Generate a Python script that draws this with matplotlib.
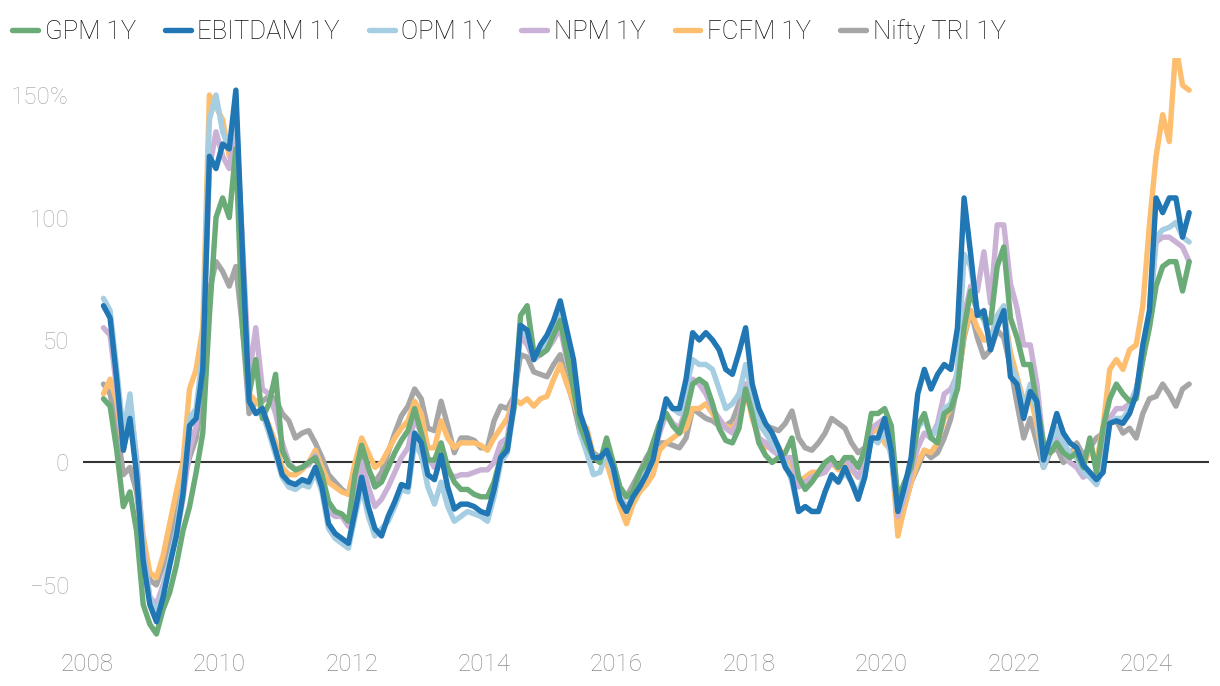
import numpy as np
import matplotlib.pyplot as plt
from matplotlib.ticker import FuncFormatter

# 1Y rolling returns (%), sampled every 0.1 year from 2008.25 to 2024.65
gpm = [26, 23, 5, -18, -12, -28, -58, -66,
       -70, -60, -53, -42, -28, -18, -4, 12, 60, 100,
       108, 100, 128, 55, 28, 42, 18, 24, 36, 5,
       -1, -3, -2, 0, 2, -5, -16, -20, -21, -24,
       -5, 7, -2, -10, -8, -2, 4, 9, 13, 22,
       12, 1, 1, 8, -2, -8, -11, -11, -13, -14,
       -14, -8, 2, 8, 22, 60, 64, 45, 44, 46,
       52, 58, 44, 30, 15, 8, 2, 0, 10, 0,
       -10, -14, -12, -4, 0, 8, 16, 20, 15, 12,
       20, 32, 34, 32, 24, 14, 9, 8, 14, 30,
       20, 8, 3, 0, 2, 4, 10, -6, -11, -8,
       -4, 0, 2, -2, 2, 2, -2, 5, 20, 20,
       22, 15, -15, -8, -2, 15, 20, 10, 8, 20,
       22, 30, 55, 70, 62, 59, 57, 80, 88, 59,
       51, 40, 40, 24, 8, 4, 8, 4, 2, 4,
       -2, 10, -4, 14, 26, 32, 28, 25, 26, 42,
       55, 72, 80, 82, 82, 70, 82]
ebitdam = [64, 59, 34, 5, 18, -5, -40, -58,
           -65, -55, -42, -30, -13, 15, 18, 38, 125, 120,
           130, 128, 152, 85, 25, 20, 22, 14, 5, -5,
           -8, -9, -7, -8, -2, -10, -25, -29, -31, -33,
           -20, -6, -18, -27, -30, -22, -16, -9, -10, 12,
           8, -5, -7, 3, -10, -19, -17, -17, -18, -20,
           -21, -11, 2, 5, 24, 56, 54, 42, 48, 52,
           58, 66, 54, 42, 20, 12, 2, 2, 5, -2,
           -15, -20, -14, -10, -5, 1, 14, 26, 22, 22,
           34, 53, 50, 53, 50, 46, 38, 36, 45, 55,
           32, 22, 16, 12, 6, -2, -6, -20, -18, -20,
           -20, -12, -5, -8, -2, -8, -15, -6, 10, 10,
           18, 5, -20, -10, 2, 28, 38, 30, 36, 40,
           38, 55, 108, 85, 60, 62, 46, 55, 62, 35,
           32, 18, 29, 25, 1, 10, 20, 12, 8, 6,
           -1, -4, -7, -4, 16, 17, 16, 20, 28, 48,
           62, 108, 102, 108, 108, 92, 102]
opm = [67, 62, 38, 12, 28, 0, -38, -55,
       -62, -52, -40, -28, -10, 18, 22, 45, 140, 150,
       135, 128, 145, 85, 25, 20, 20, 12, 3, -6,
       -10, -11, -9, -10, -4, -12, -27, -31, -33, -35,
       -22, -10, -22, -30, -27, -24, -18, -11, -12, 8,
       3, -10, -17, -8, -18, -24, -22, -20, -21, -22,
       -24, -14, 0, 4, 22, 56, 52, 42, 46, 50,
       55, 62, 50, 38, 12, 4, -5, -4, 4, -4,
       -14, -19, -14, -9, -4, 4, 14, 24, 22, 20,
       30, 42, 40, 40, 38, 30, 22, 24, 28, 40,
       28, 16, 12, 8, 4, 0, -8, -20, -18, -20,
       -20, -12, -6, -8, -4, -8, -13, -4, 10, 8,
       14, 2, -20, -12, 0, 14, 18, 10, 14, 22,
       24, 38, 85, 80, 62, 58, 50, 60, 64, 40,
       34, 22, 32, 20, -2, 6, 14, 8, 4, 2,
       -4, -6, -9, -2, 16, 18, 18, 22, 30, 42,
       58, 92, 95, 96, 98, 92, 90]
npm = [55, 52, 30, 5, 24, 2, -35, -55,
       -58, -50, -40, -30, -15, 5, 15, 42, 120, 135,
       125, 120, 138, 90, 35, 55, 30, 28, 20, 8,
       0, -3, -2, -1, 3, -5, -20, -22, -22, -26,
       -12, 0, -10, -18, -15, -10, -4, 2, 6, 18,
       12, 2, -2, 2, -4, -6, -5, -5, -4, -3,
       -3, 0, 8, 10, 28, 52, 48, 42, 44, 46,
       50, 55, 42, 32, 15, 8, 2, 2, 5, -3,
       -14, -18, -14, -8, -4, 2, 12, 20, 16, 14,
       22, 34, 32, 28, 22, 18, 14, 12, 18, 32,
       20, 10, 8, 5, 3, 2, 2, -10, -8, -6,
       -5, -4, 0, -2, 2, -2, -6, 0, 14, 16,
       18, 5, -22, -14, -4, 6, 12, 10, 16, 28,
       30, 36, 60, 72, 70, 86, 65, 97, 97, 73,
       63, 48, 48, 32, 7, 6, 10, 4, 0, -2,
       -6, -4, -9, 6, 18, 22, 22, 24, 30, 42,
       60, 90, 92, 92, 90, 88, 82]
fcfm = [28, 34, 25, 5, 20, -3, -30, -45,
        -47, -38, -25, -12, 0, 30, 38, 55, 150, 145,
        140, 125, 140, 85, 28, 25, 22, 15, 8, -2,
        -5, -5, -3, 0, 5, -2, -8, -10, -12, -13,
        0, 10, 4, -2, 0, 5, 10, 14, 17, 25,
        20, 6, 6, 17, 10, 6, 8, 8, 8, 7,
        5, 10, 14, 18, 26, 24, 26, 23, 26, 27,
        34, 40, 32, 25, 17, 14, 3, 0, 0, -9,
        -18, -25, -17, -12, -9, -5, 5, 8, 10, 12,
        14, 22, 22, 24, 20, 16, 15, 14, 18, 30,
        18, 10, 6, 10, 6, 2, -2, -8, -6, -4,
        -4, -3, 0, -3, 0, -3, -6, 0, 12, 14,
        8, 5, -30, -18, -8, 0, 5, 4, 8, 18,
        22, 32, 52, 62, 55, 50, 50, 60, 62, 45,
        35, 25, 28, 15, 0, 6, 10, 5, 4, 5,
        -2, 6, 0, 15, 38, 42, 38, 46, 48, 64,
        97, 125, 142, 131, 170, 154, 152]
nifty = [32, 28, 15, -5, -2, -12, -35, -48,
         -50, -42, -32, -22, -8, 2, 10, 30, 70, 82,
         78, 72, 80, 55, 20, 25, 25, 27, 26, 20,
         17, 10, 12, 13, 8, 2, -5, -8, -11, -13,
         -2, 2, -3, -8, -4, 4, 12, 19, 23, 30,
         26, 14, 13, 25, 15, 4, 10, 10, 9, 6,
         6, 17, 23, 22, 27, 44, 43, 37, 36, 35,
         40, 44, 33, 24, 12, 8, 4, 2, 6, 0,
         -10, -14, -9, -4, 2, 6, 8, 8, 7, 6,
         10, 22, 20, 18, 17, 15, 15, 17, 24, 32,
         22, 18, 15, 14, 13, 16, 21, 10, 6, 5,
         8, 12, 18, 16, 14, 8, 4, 6, 12, 14,
         10, 8, -28, -18, -8, -2, 5, 2, 4, 10,
         18, 32, 51, 62, 51, 43, 46, 54, 51, 39,
         24, 10, 18, 8, -2, 4, 6, 0, 2, 8,
         3, 6, 10, 12, 16, 17, 12, 14, 10, 20,
         26, 27, 32, 28, 23, 30, 32]

names = ['GPM 1Y', 'EBITDAM 1Y', 'OPM 1Y', 'NPM 1Y', 'FCFM 1Y', 'Nifty TRI 1Y']
colors = ['#6aab78', '#2077b4', '#a6cee3', '#cab2d6', '#fdbf6f', '#a6a6a6']
series = [gpm, ebitdam, opm, npm, fcfm, nifty]

years = 2008.25 + 0.1 * np.arange(len(gpm))

plt.rcParams['font.family'] = ['Roboto', 'DejaVu Sans']
fig = plt.figure(figsize=(12.2, 6.86), dpi=100)
ax = fig.add_axes([0.068, 0.058, 0.923, 0.857])

# EBITDAM and GPM on top, Nifty at the back
lines = {}
zorders = [5, 6, 4, 3, 2, 1]
for name, col, vals, z in zip(names, colors, series, zorders):
    ln, = ax.plot(years, vals, color=col, lw=3.9, zorder=z,
                  solid_joinstyle='round', solid_capstyle='round')
    lines[name] = ln

ax.axhline(0, color='#333333', lw=1.5, zorder=0)

ax.set_xlim(2007.94, 2024.95)
ax.set_ylim(-75, 165)
ax.set_xticks(range(2008, 2025, 2))
ax.set_yticks([-50, 0, 50, 100, 150])
ax.yaxis.set_major_formatter(FuncFormatter(lambda v, p: '150%' if v == 150 else '%d' % v if v >= 0 else '\u2212%d' % -v))
for s in ax.spines.values():
    s.set_visible(False)
ax.tick_params(axis='both', length=0)
ax.tick_params(axis='x', labelsize=17.5, labelcolor='#8c8c8c', pad=5)
ax.tick_params(axis='y', labelsize=17.5, labelcolor='#b0b0b0', pad=10)
for lab in ax.get_xticklabels() + ax.get_yticklabels():
    lab.set_fontweight('light')

leg = fig.legend([lines[n] for n in names], names, loc='upper left',
                 bbox_to_anchor=(0.006, 0.98), ncol=6, frameon=False,
                 borderpad=0.1, borderaxespad=0.1,
                 handlelength=1.0, handletextpad=0.25, columnspacing=1.15,
                 prop={'size': 18.5, 'weight': 'light'})
for t in leg.get_texts():
    t.set_color('#111111')

fig.savefig('out.png', dpi=100)
